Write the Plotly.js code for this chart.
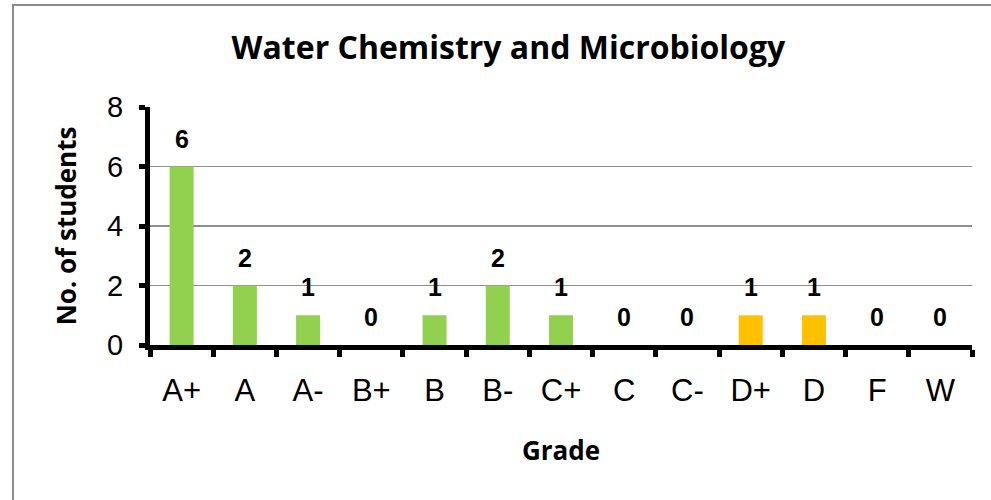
<!DOCTYPE html>
<html>
<head>
<meta charset="utf-8">
<script src="https://cdn.plot.ly/plotly-3.0.1.min.js"></script>
<style>html,body{margin:0;padding:0;background:#fff;}#chart{width:991px;height:500px;}</style>
</head>
<body>
<div id="chart"></div>
<script>
var grades = ["A+","A","A-","B+","B","B-","C+","C","C-","D+","D","F","W"];
var students = [6,2,1,0,1,2,1,0,0,1,1,0,0];
var barColors = ["#92D050","#92D050","#92D050","#92D050","#92D050","#92D050","#92D050","#92D050","#92D050","#FFC000","#FFC000","#92D050","#92D050"];
var yTicks = [0,2,4,6,8];
var chartTitle = "Water Chemistry and Microbiology";
var xTitle = "Grade";
var yTitle = "No. of students";

var trace = {
  type: "bar",
  x: grades,
  y: students,
  marker: {color: barColors},
  hoverinfo: "x+y"
};

var annotations = grades.map(function(g, i){
  return {
    x: g, y: students[i], xref: "x", yref: "y",
    text: "<b>" + students[i] + "</b>",
    showarrow: false, yanchor: "bottom", yshift: 12,
    font: {family: "Liberation Sans, Arial, sans-serif", size: 25, color: "#000"}
  };
});

var layout = {
  width: 991, height: 500,
  margin: {l: 150, r: 19, t: 107, b: 155},
  paper_bgcolor: "#fff", plot_bgcolor: "#fff",
  showlegend: false,
  bargap: 0.62,
  title: {
    text: "<b>" + chartTitle + "</b>",
    font: {family: "Open Sans, sans-serif", size: 32, color: "#000"},
    xref: "container", yref: "container", x: 0.513, xanchor: "center", y: 0.904, yanchor: "middle"
  },
  xaxis: {
    type: "category",
    tickson: "boundaries",
    showline: true, linecolor: "#000", linewidth: 5,
    ticks: "outside", ticklen: 7, tickwidth: 5, tickcolor: "#000",
    showgrid: false,
    tickfont: {family: "Liberation Sans, Arial, sans-serif", size: 31, color: "#000"},
    ticklabelstandoff: 14,
    title: {text: "<b>" + xTitle + "</b>", font: {family: "Open Sans, sans-serif", size: 26, color: "#000"}, standoff: 36},
    fixedrange: true
  },
  yaxis: {
    range: [0, 8],
    tickvals: yTicks,
    showline: true, linecolor: "#000", linewidth: 5,
    ticks: "outside", ticklen: 6, tickwidth: 5, tickcolor: "#000",
    showgrid: true, gridcolor: "#8f8f8f", gridwidth: 1.5,
    zeroline: false,
    tickfont: {family: "Liberation Sans, Arial, sans-serif", size: 29, color: "#000"},
    ticklabelstandoff: 10,
    title: {text: "<b>" + yTitle + "</b>", font: {family: "Open Sans, sans-serif", size: 26, color: "#000"}, standoff: 24},
    fixedrange: true
  },
  annotations: annotations,
  shapes: [{
    type: "rect", xref: "paper", yref: "paper",
    x0: -0.1667, x1: 1.2, y0: -1.2, y1: 1.4286,
    line: {color: "#8c8c8c", width: 2}, fillcolor: "rgba(0,0,0,0)", layer: "below"
  }]
};

Plotly.newPlot("chart", [trace], layout, {displayModeBar: false, staticPlot: true});
</script>
</body>
</html>
